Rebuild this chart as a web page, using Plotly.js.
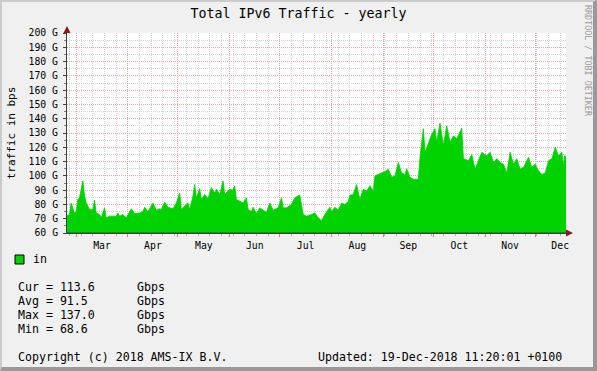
<!DOCTYPE html>
<html>
<head>
<meta charset="utf-8">
<script src="https://cdn.plot.ly/plotly-3.0.1.min.js"></script>
<style>
  html, body { margin: 0; padding: 0; background: #F0F0F0; }
  #wrap { position: relative; width: 597px; height: 371px; }
  #chart { width: 597px; height: 371px; }
  #frame { position: absolute; left: 0; top: 0; width: 597px; height: 371px; box-sizing: border-box;
           border-left: 2px solid #CBCBCB; border-top: 2px solid #CBCBCB;
           border-right: 4px solid #999999; border-bottom: 4px solid #999999; pointer-events: none; }
</style>
</head>
<body>
<div id="wrap"><div id="chart"></div><div id="frame"></div></div>
<script>
// ---- data ----
const dates = [
'2018-02-23','2018-02-25','2018-02-26','2018-02-28','2018-03-01','2018-03-02','2018-03-03','2018-03-05','2018-03-06','2018-03-07',
'2018-03-09','2018-03-11','2018-03-12','2018-03-13','2018-03-15','2018-03-16','2018-03-18','2018-03-19','2018-03-21','2018-03-23',
'2018-03-25','2018-03-26','2018-03-27','2018-03-29','2018-03-31','2018-04-03','2018-04-05','2018-04-08','2018-04-10','2018-04-11',
'2018-04-13','2018-04-16','2018-04-18','2018-04-20','2018-04-21','2018-04-23','2018-04-25','2018-04-28','2018-04-30','2018-05-02',
'2018-05-03','2018-05-05','2018-05-07','2018-05-08','2018-05-10','2018-05-11','2018-05-12','2018-05-14','2018-05-15','2018-05-17',
'2018-05-19','2018-05-21','2018-05-23','2018-05-24','2018-05-26','2018-05-28','2018-05-29','2018-05-31','2018-06-01','2018-06-03',
'2018-06-04','2018-06-05','2018-06-07','2018-06-09','2018-06-11','2018-06-12','2018-06-14','2018-06-15','2018-06-17','2018-06-19',
'2018-06-21','2018-06-23','2018-06-25','2018-06-27','2018-06-30','2018-07-02','2018-07-03','2018-07-05','2018-07-08','2018-07-10',
'2018-07-12','2018-07-13','2018-07-15','2018-07-17','2018-07-20','2018-07-22','2018-07-24','2018-07-26','2018-07-28','2018-07-31',
'2018-08-01','2018-08-03','2018-08-05','2018-08-07','2018-08-09','2018-08-11','2018-08-12','2018-08-14','2018-08-16','2018-08-18',
'2018-08-20','2018-08-22','2018-08-24','2018-08-26','2018-08-27','2018-08-29','2018-09-02','2018-09-04','2018-09-06','2018-09-08',
'2018-09-10','2018-09-12','2018-09-14','2018-09-15','2018-09-17','2018-09-19','2018-09-22','2018-09-23','2018-09-25','2018-09-26',
'2018-09-28','2018-09-30','2018-10-02','2018-10-03','2018-10-05','2018-10-07','2018-10-09','2018-10-11','2018-10-13','2018-10-15',
'2018-10-18','2018-10-19','2018-10-22','2018-10-24','2018-10-26','2018-10-28','2018-10-30','2018-11-02','2018-11-04','2018-11-06',
'2018-11-08','2018-11-10','2018-11-12','2018-11-14','2018-11-16','2018-11-18','2018-11-20','2018-11-22','2018-11-24','2018-11-27',
'2018-11-29','2018-12-01','2018-12-03','2018-12-05','2018-12-07','2018-12-09','2018-12-11','2018-12-13','2018-12-15','2018-12-17',
'2018-12-18','2018-12-18 12:00','2018-12-19 11:20'
];
const trafficIn = [
71.8,73,81,74,75,83.5,84.7,96.5,86,81,
76.5,76.5,83,74,73,70.6,77.6,70.6,71.8,72,
71.8,74,71.8,73,70.6,77,73.6,74,75,78,
75,81,76,77,76.5,81.6,78,77,81,88,
76.5,79,81,76.5,86,94,84.7,91,83.5,87,
84,91.8,88,90.6,87,96.5,87,89.4,90.6,90,
93,83.5,82,81,84.7,76.5,75,78,73.6,77.6,
76,74.6,81,76,77.6,84.7,77.6,77.6,80,84.7,
86,86.4,73,71.8,73,74,70.6,68.6,73,78,
75,78,76,81,80,82,86.4,87,94,83.5,
90.6,89.4,93,89.4,100,101,103,104.7,99,100,
109.4,102,101,105,99,97.6,97.6,113,133,116.5,
123.5,129,133,123.5,137.0,121,135,123.5,128,126,
133.4,112,110.6,115,104.7,110.6,116.5,114,116.5,109.4,
112,109.4,108.2,102,116.5,108.2,112,104.7,106,113,
106,108.2,103.5,101,102,110.6,112,120,114,116.5,
106,114,113.6
];
const seriesName = 'in';
const statLabels = ['Cur', 'Avg', 'Max', 'Min'];
const statValues = ['113.6', '91.5', '137.0', '68.6'];
const statUnit = 'Gbps';
const titleText = 'Total IPv6 Traffic - yearly';
const yTitle = 'traffic in bps';
const copyrightText = 'Copyright (c) 2018 AMS-IX B.V.';
const updatedText = 'Updated: 19-Dec-2018 11:20:01 +0100';
const sideText = 'RRDTOOL / TOBI OETIKER';
const xStart = '2018-02-23 12:00';
const xEnd = '2018-12-19 11:20';

// ---- layout helpers (pixel -> paper) ----
const L = 67, T = 33, W = 499, H = 200;
const px = x => (x - L) / W;
const py = y => (T + H - y) / H;

const MONO = 'DejaVu Sans Mono, monospace';
const GREEN = '#00D200';
const majorGrid = '#EBA3A3';
const minorGrid = '#D2D2D2';

const trace = {
  type: 'scatter', mode: 'lines', x: dates, y: trafficIn, name: seriesName,
  fill: 'tozeroy', fillcolor: GREEN, line: {color: GREEN, width: 0.8},
  hoverinfo: 'x+y', showlegend: false
};

const ann = [];
ann.push({xref:'paper', yref:'paper', x: px(31), y: py(259), xanchor:'left', yanchor:'middle', text: seriesName, showarrow:false, font:{family:MONO, size:11.6, color:'#000'}});
const rowY = [287, 301, 315, 329];
statLabels.forEach((lab, i) => {
  ann.push({xref:'paper', yref:'paper', x: px(16), y: py(rowY[i]), xanchor:'left', yanchor:'middle', text: lab + ' = ' + statValues[i], showarrow:false, font:{family:MONO, size:11.6, color:'#000'}});
  ann.push({xref:'paper', yref:'paper', x: px(135), y: py(rowY[i]), xanchor:'left', yanchor:'middle', text: statUnit, showarrow:false, font:{family:MONO, size:11.6, color:'#000'}});
});
ann.push({xref:'paper', yref:'paper', x: px(16), y: py(357), xanchor:'left', yanchor:'middle', text: copyrightText, showarrow:false, font:{family:MONO, size:11.6, color:'#000'}});
ann.push({xref:'paper', yref:'paper', x: px(564), y: py(357), xanchor:'right', yanchor:'middle', text: updatedText, showarrow:false, font:{family:MONO, size:11.6, color:'#000'}});
ann.push({xref:'paper', yref:'paper', x: px(588), y: py(61), xanchor:'center', yanchor:'middle', text: sideText, textangle: 90, showarrow:false, font:{family:MONO, size:8.4, color:'#9A9A9A'}});

const shapes = [
  // legend swatch
  {type:'rect', xref:'paper', yref:'paper', x0: px(15), x1: px(24), y0: py(264), y1: py(255), fillcolor: GREEN, line:{color:'#000', width:1}},
  // y axis arrow
  {type:'path', xref:'paper', yref:'paper', path: `M ${px(63.5)} ${py(33)} L ${px(70.5)} ${py(33)} L ${px(67)} ${py(26)} Z`, fillcolor:'#8B1A1A', line:{width:0}},
  // x axis arrow
  {type:'path', xref:'paper', yref:'paper', path: `M ${px(566)} ${py(229.5)} L ${px(566)} ${py(236.5)} L ${px(573)} ${py(233)} Z`, fillcolor:'#8B1A1A', line:{width:0}},
  // x axis line extension
  {type:'line', xref:'paper', yref:'paper', x0: 0, x1: px(567), y0: 0, y1: 0, line:{color:'#404040', width:1}}
];

const layout = {
  width: 597, height: 371,
  margin: {l: L, r: 597 - L - W, t: T, b: 371 - T - H, pad: 0},
  paper_bgcolor: '#F0F0F0', plot_bgcolor: '#FFFFFF',
  title: {text: titleText, font: {family: MONO, size: 13.3, color: '#000'}, x: 0.5, xref: 'container', xanchor: 'center', y: 1 - 13/371, yref: 'container', yanchor: 'middle'},
  xaxis: {
    type: 'date', range: [xStart, xEnd], tick0: '2018-03-01', dtick: 'M1', tickformat: '%b', ticklabelmode: 'period',
    showgrid: true, gridcolor: majorGrid, griddash: '1px,1px', gridwidth: 1,
    ticks: 'outside', ticklen: 3, tickcolor: '#D08080',
    minor: {dtick: 7*86400000, tick0: '2018-02-25', showgrid: true, gridcolor: minorGrid, griddash: '1px,1px', ticks: 'outside', ticklen: 2, tickcolor: '#B0B0B0'},
    showline: true, linecolor: '#404040', linewidth: 1, zeroline: false,
    tickfont: {family: MONO, size: 9.8, color: '#000'}, fixedrange: true
  },
  yaxis: {
    range: [60, 200], tick0: 60, dtick: 10, ticksuffix: ' G', ticklabelstandoff: 3,
    showgrid: true, gridcolor: majorGrid, griddash: '1px,1px', gridwidth: 1,
    ticks: 'outside', ticklen: 3, tickcolor: '#404040',
    minor: {dtick: 5, showgrid: true, gridcolor: minorGrid, griddash: '1px,1px', ticks: 'outside', ticklen: 2, tickcolor: '#808080'},
    showline: true, linecolor: '#404040', linewidth: 1, zeroline: false,
    tickfont: {family: MONO, size: 9.8, color: '#000'},
    title: {text: yTitle, font: {family: MONO, size: 11, color: '#000'}, standoff: 10}, fixedrange: true
  },
  annotations: ann,
  shapes: shapes,
  showlegend: false
};

Plotly.newPlot('chart', [trace], layout, {displayModeBar: false, staticPlot: true});
</script>
</body>
</html>
